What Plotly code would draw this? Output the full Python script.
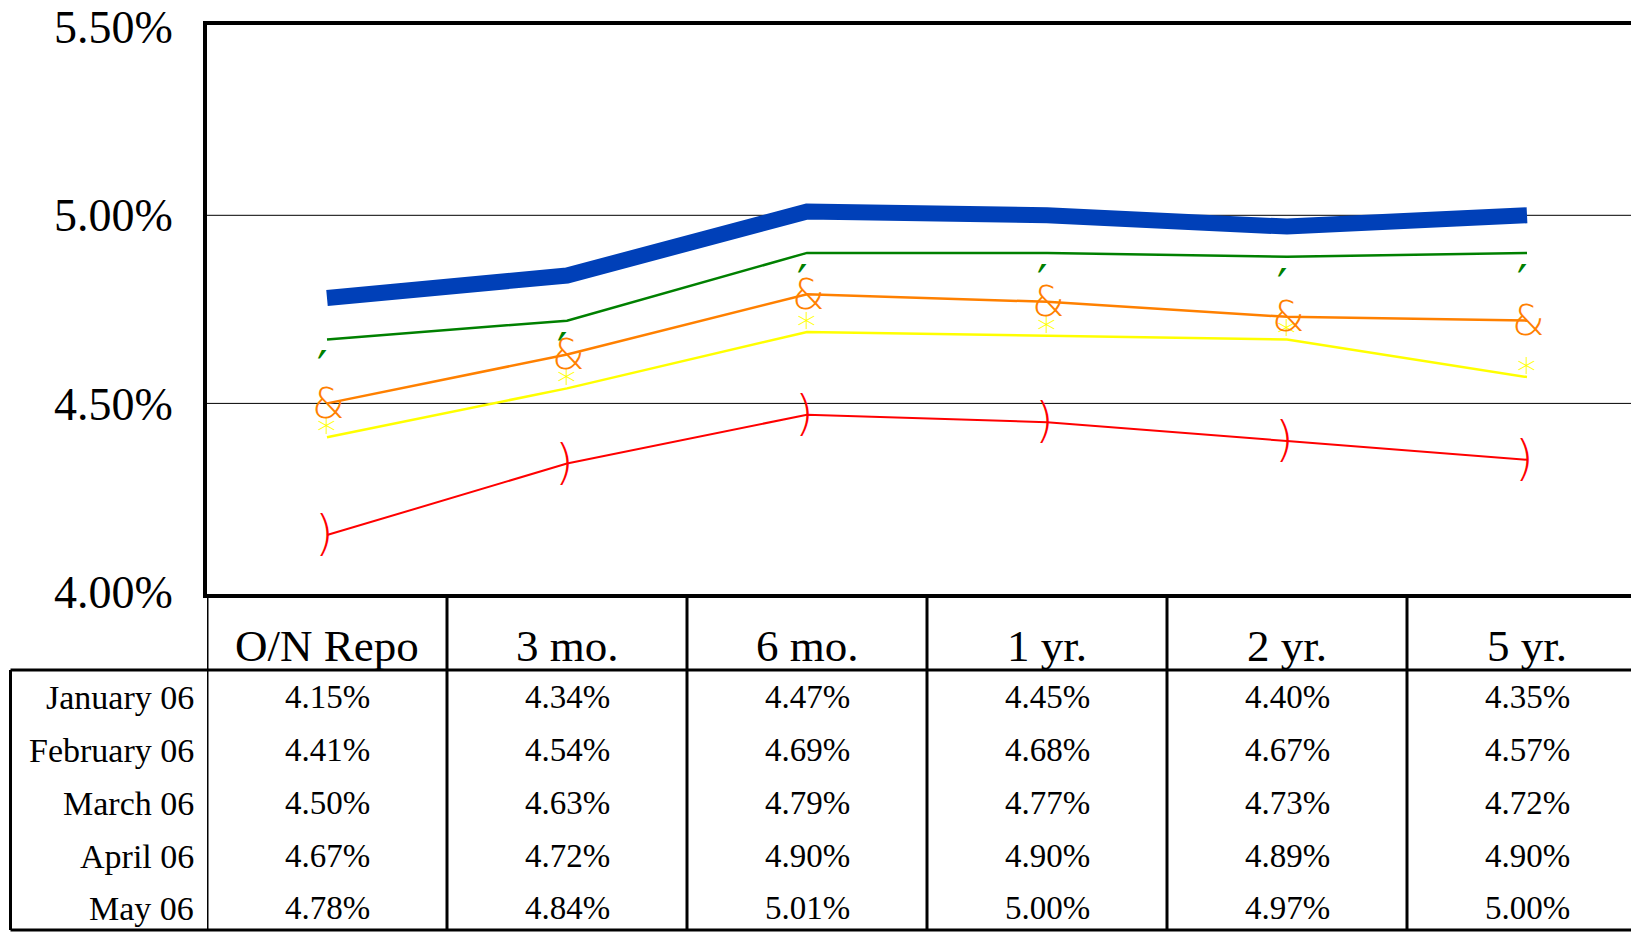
import plotly.graph_objects as go

# Data ##########################################################################################################
maturities = ['O/N Repo', '3 mo.', '6 mo.', '1 yr.', '2 yr.', '5 yr.']
months = ['January 06', 'February 06', 'March 06', 'April 06', 'May 06']

jan_06 = [4.15, 4.34, 4.47, 4.45, 4.40, 4.35]
feb_06 = [4.41, 4.54, 4.69, 4.68, 4.67, 4.57]
mar_06 = [4.50, 4.63, 4.79, 4.77, 4.73, 4.72]
apr_06 = [4.67, 4.72, 4.90, 4.90, 4.89, 4.90]
may_06 = [4.78, 4.84, 5.01, 5.00, 4.97, 5.00]

y_ticks = [4.00, 4.50, 5.00, 5.50]
y_tick_labels = ['4.00%', '4.50%', '5.00%', '5.50%']

series = [jan_06, feb_06, mar_06, apr_06, may_06]

# Geometry (pixels of the page; the page body adds an 8px margin) ##############################################
OFF = 8
W, H = 1639 - OFF, 932 - OFF
L, T, B = 207 - OFF, 25 - OFF, 594 - OFF     # plot area left / top / bottom
PW, PH = W - L, B - T
COL = 240                                     # table column width


def py(p):
    # page pixel row -> paper y
    return (B - (p - OFF)) / PH


def px_(p):
    # page pixel column -> paper x
    return (p - OFF - L) / PW


FONT = 'Liberation Serif'
GLYPH_FONT = 'DejaVu Sans'

fig = go.Figure()

# series: colour, line width
line_styles = [
    ('#FF0000', 2),
    ('#FFFF00', 2.5),
    ('#FF8000', 2.5),
    ('#008000', 2.5),
    ('#0040B8', 16),
]

for name, vals, (color, width) in zip(months, series, line_styles):
    fig.add_trace(go.Scatter(
        x=maturities,
        y=vals,
        mode='lines',
        name=name,
        line=dict(color=color, width=width),
        hoverinfo='skip',
    ))

# glyph markers: glyph, size, weight, xshift, yshift
glyphs = [
    (')', 48, 200, -3, 2),
    ('*', 38, 200, -1, 5),
    ('&', 42, 300, 1, 0),
    ('\u2032', 46, 400, -5, -29),
    (None, 0, 0, 0, 0),
]

annotations = []
for vals, (color, _), (g, size, weight, xs, ys) in zip(series, line_styles, glyphs):
    if g is None:
        continue
    for m, v in zip(maturities, vals):
        annotations.append(dict(x=m, y=v, xref='x', yref='y', text=g, showarrow=False,
                                xanchor='center', yanchor='middle', xshift=xs, yshift=ys,
                                font=dict(family=GLYPH_FONT, size=size, color=color,
                                          weight=weight)))

# Gridlines inside the frame ####################################################################################
shapes = []
for t in y_ticks[1:-1]:
    shapes.append(dict(type='line', xref='paper', yref='y', x0=0, x1=1, y0=t, y1=t,
                       layer='below', line=dict(color='black', width=1)))

# Table lines ###################################################################################################
line = dict(color='black', width=3)
y_head, y_bot = 670, 930
shapes.append(dict(type='line', xref='paper', yref='paper', x0=px_(10.5), x1=1.01,
                   y0=py(y_head), y1=py(y_head), line=line))
shapes.append(dict(type='line', xref='paper', yref='paper', x0=px_(10.5), x1=1.01,
                   y0=py(y_bot), y1=py(y_bot), line=line))
shapes.append(dict(type='line', xref='paper', yref='paper', x0=px_(10.5), x1=px_(10.5),
                   y0=py(y_head), y1=py(y_bot), line=line))
for i in range(len(maturities)):
    shapes.append(dict(type='line', xref='x', yref='paper', x0=i - 0.5, x1=i - 0.5,
                       y0=0, y1=py(y_bot), line=line))

# Table text ####################################################################################################
for m in maturities:
    annotations.append(dict(x=m, y=py(646), xref='x', yref='paper', text=m, showarrow=False,
                            xanchor='center', yanchor='middle',
                            font=dict(family=FONT, size=45, color='black')))

row_y = [697, 750, 803, 856, 908]
for ry, name, vals in zip(row_y, months, series):
    annotations.append(dict(x=px_(196), y=py(ry), xref='paper', yref='paper', text=name,
                            showarrow=False, xanchor='right', yanchor='middle',
                            font=dict(family=FONT, size=34, color='black')))
    for m, v in zip(maturities, vals):
        annotations.append(dict(x=m, y=py(ry), xref='x', yref='paper', text=f'{v:.2f}%',
                                showarrow=False, xanchor='center', yanchor='middle',
                                font=dict(family=FONT, size=33, color='black')))

# Layout ########################################################################################################
y_per_px = 1.0 / 376.2
y_top = 5.50 + 2.2 * y_per_px
y_bottom = y_top - PH * y_per_px

fig.update_layout(
    width=W,
    height=H,
    margin=dict(l=L, r=0, t=T, b=H - B, pad=0, autoexpand=False),
    paper_bgcolor='white',
    plot_bgcolor='white',
    showlegend=False,
    shapes=shapes,
    annotations=annotations,
    xaxis=dict(
        type='category',
        range=[-0.5, -0.5 + PW / COL],
        showticklabels=False,
        showgrid=False,
        zeroline=False,
        showline=True,
        mirror=True,
        linecolor='black',
        linewidth=4,
        ticks='',
        automargin=False,
    ),
    yaxis=dict(
        range=[y_bottom, y_top],
        tickvals=y_ticks,
        ticktext=y_tick_labels,
        tickfont=dict(family=FONT, size=46, color='black'),
        ticks='',
        ticklabelstandoff=21,
        ticklabeloverflow='allow',
        automargin=False,
        showgrid=False,
        zeroline=False,
        showline=True,
        mirror=True,
        linecolor='black',
        linewidth=4,
    ),
)

fig.write_html('out.html')
